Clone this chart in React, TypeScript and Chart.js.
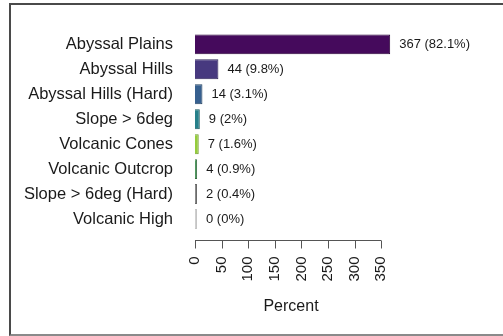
import React, { useEffect, useRef } from "react";
import { Chart, registerables } from "chart.js";

Chart.register(...registerables);

const categories = [
  "Abyssal Plains",
  "Abyssal Hills",
  "Abyssal Hills (Hard)",
  "Slope > 6deg",
  "Volcanic Cones",
  "Volcanic Outcrop",
  "Slope > 6deg (Hard)",
  "Volcanic High",
];
const counts = [367, 44, 14, 9, 7, 4, 2, 0];
const percents = ["82.1%", "9.8%", "3.1%", "2%", "1.6%", "0.9%", "0.4%", "0%"];
const barColors = ["#450a5c", "#47397f", "#37608f", "#26808a", "#95cc3c", "#4f9a5f", "#8a8a8a", "#cfcfcf"];
const barBorders = ["#2a0338", "#2c2356", "#23405f", "#1a565c", "#6d9a2a", "#356b40", "#6a6a6a", "#c4c4c4"];
const xTickValues = [0, 50, 100, 150, 200, 250, 300, 350];
const xTitle = "Percent";

const FONT = "'Liberation Sans', Arial, sans-serif";

const valueLabelPlugin = {
  id: "valueLabels",
  afterDatasetsDraw(chart: any) {
    const ctx = chart.ctx;
    const meta = chart.getDatasetMeta(0);
    ctx.save();
    ctx.font = `13px ${FONT}`;
    ctx.fillStyle = "#1a1a1a";
    ctx.textAlign = "left";
    ctx.textBaseline = "middle";
    meta.data.forEach((el: any, i: number) => {
      ctx.fillText(`${counts[i]} (${percents[i]})`, el.x + 9, el.y);
    });
    ctx.restore();
  },
};

const axisPlugin = {
  id: "rAxis",
  afterDraw(chart: any) {
    const ctx = chart.ctx;
    const xs = chart.scales.x;
    const y = Math.round(chart.chartArea.bottom + 8.5) + 0.5;
    const x0 = xs.getPixelForValue(xTickValues[0]);
    const x1 = xs.getPixelForValue(xTickValues[xTickValues.length - 1]);
    ctx.save();
    ctx.strokeStyle = "#555";
    ctx.lineWidth = 1;
    ctx.beginPath();
    ctx.moveTo(x0, y);
    ctx.lineTo(x1, y);
    xTickValues.forEach((v) => {
      const px = Math.round(xs.getPixelForValue(v)) + 0.5;
      ctx.moveTo(px, y);
      ctx.lineTo(px, y + 8);
    });
    ctx.stroke();
    ctx.restore();
  },
};

export default function App() {
  const ref = useRef<HTMLCanvasElement>(null);
  useEffect(() => {
    document.body.style.margin = "0";
    const chart = new Chart(ref.current!, {
      type: "bar",
      data: {
        labels: categories,
        datasets: [
          {
            data: counts,
            backgroundColor: barColors,
            borderColor: barBorders,
            borderWidth: 1,
            barPercentage: 0.8,
            categoryPercentage: 1,
            minBarLength: 2,
            clip: false as any,
          },
        ],
      },
      options: {
        indexAxis: "y",
        animation: false,
        responsive: false,
        maintainAspectRatio: false,
        layout: { padding: { top: 31.5, left: 0, right: 116, bottom: 0 } },
        plugins: { legend: { display: false }, tooltip: { enabled: false } },
        scales: {
          x: {
            type: "linear",
            min: 0,
            max: 361,
            grid: { display: false, drawTicks: false },
            border: { display: false },
            afterBuildTicks: (scale: any) => {
              scale.ticks = xTickValues.map((v) => ({ value: v }));
            },
            afterFit: (scale: any) => {
              scale.height = 104.5;
            },
            ticks: {
              minRotation: 90,
              maxRotation: 90,
              padding: 25,
              autoSkip: false,
              color: "#1a1a1a",
              font: { family: FONT, size: 15 },
            },
            title: {
              display: true,
              text: xTitle,
              color: "#1a1a1a",
              font: { family: FONT, size: 16 },
              padding: { top: 4, bottom: 20 },
            },
          },
          y: {
            type: "category",
            grid: { display: false, drawTicks: false },
            border: { display: false },
            afterFit: (scale: any) => {
              scale.width = 195;
            },
            ticks: {
              padding: 22,
              autoSkip: false,
              color: "#1a1a1a",
              font: { family: FONT, size: 16.5 },
            },
          },
        },
      },
      plugins: [valueLabelPlugin, axisPlugin],
    } as any);
    return () => chart.destroy();
  }, []);

  return (
    <div style={{ position: "relative", width: 503, height: 336, overflow: "hidden", background: "#fff" }}>
      <canvas ref={ref} width={503} height={336} style={{ position: "absolute", left: 0, top: 0 }} />
      <div
        style={{
          position: "absolute",
          left: 9,
          top: 3,
          width: 600,
          height: 329,
          borderLeft: "2px solid #4a4a4a",
          borderTop: "2px solid #4a4a4a",
          borderBottom: "2px solid #8a8a8a",
          pointerEvents: "none",
        }}
      />
    </div>
  );
}
